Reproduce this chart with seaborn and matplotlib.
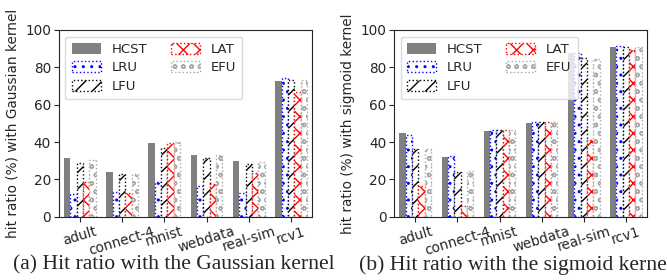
import pandas as pd
import numpy as np
import matplotlib.pyplot as plt
import seaborn as sns

# hit ratio data
datasets = ['adult', 'connect-4', 'mnist', 'webdata', 'real-sim', 'rcv1']
methods = ['HCST', 'LRU', 'LFU', 'LAT', 'EFU']

gauss_hcst = [31.4, 24.0, 39.3, 33.0, 29.8, 72.7]
gauss_lru = [12.0, 13.0, 18.4, 16.6, 12.9, 74.1]
gauss_lfu = [28.6, 22.7, 36.6, 31.3, 28.2, 73.2]
gauss_lat = [18.8, 12.5, 39.3, 17.5, 23.6, 67.0]
gauss_efu = [30.4, 22.7, 39.8, 33.0, 29.1, 73.2]

sig_hcst = [44.8, 32.0, 45.9, 50.0, 87.5, 90.7]
sig_lru = [43.8, 32.5, 46.4, 50.5, 87.5, 91.6]
sig_lfu = [36.0, 24.1, 46.4, 50.5, 84.8, 91.0]
sig_lat = [16.4, 5.7, 46.4, 50.5, 41.0, 89.3]
sig_efu = [36.0, 24.5, 46.4, 50.5, 84.6, 90.7]

ylabels = ['hit ratio (%) with Gaussian kernel', 'hit ratio (%) with sigmoid kernel']
captions = ['(a) Hit ratio with the Gaussian kernel', '(b) Hit ratio with the sigmoid kernel']

# style for each method: (fill, edge colour, hatch)
styles = {
    'HCST': ('gray', 'gray', ''),
    'LRU': ('white', 'blue', '..'),
    'LFU': ('white', 'black', '//'),
    'LAT': ('white', 'red', 'xx'),
    'EFU': ('white', 'darkgray', 'oo'),
}


def make_df(cols):
    rows = []
    for m, vals in zip(methods, cols):
        for d, v in zip(datasets, vals):
            rows.append({'dataset': d, 'method': m, 'ratio': v})
    return pd.DataFrame(rows)


df_gauss = make_df([gauss_hcst, gauss_lru, gauss_lfu, gauss_lat, gauss_efu])
df_sig = make_df([sig_hcst, sig_lru, sig_lfu, sig_lat, sig_efu])

sns.set_theme(style='ticks')
plt.rcParams['font.family'] = ['DejaVu Sans']
plt.rcParams['hatch.linewidth'] = 1.0

fig = plt.figure(figsize=(6.67, 2.8), dpi=100)
ax1 = fig.add_axes([0.088, 0.226, 0.380, 0.667])
ax2 = fig.add_axes([0.591, 0.226, 0.379, 0.667])

for ax, df, ylab in zip([ax1, ax2], [df_gauss, df_sig], ylabels):
    sns.barplot(data=df, x='dataset', y='ratio', hue='method', width=0.75,
                ax=ax, legend=False, saturation=1)
    for cont, m in zip(ax.containers, methods):
        fc, ec, hatch = styles[m]
        for p in cont.patches:
            p.set_facecolor(fc)
            p.set_edgecolor(ec)
            p.set_hatch(hatch)
            if m == 'HCST':
                p.set_linewidth(0)
            else:
                p.set_linestyle(':')
                p.set_linewidth(1.0)
    ax.set_ylim(0, 100)
    ax.set_yticks([0, 20, 40, 60, 80, 100])
    ax.set_xlabel('')
    ax.set_ylabel(ylab, fontsize=9.8)
    ax.tick_params(axis='both', labelsize=9.8, length=3.5, width=0.8, pad=2)
    ax.set_xticks(range(len(datasets)))
    ax.set_xticklabels(datasets, rotation=17, ha='center')
    for s in ax.spines.values():
        s.set_linewidth(0.8)
        s.set_visible(True)
    ax.legend(ax.containers, methods, ncol=2, loc='upper left', fontsize=9.5,
              handlelength=2.2, handleheight=0.9, columnspacing=1.8,
              borderpad=0.5, labelspacing=0.4, fancybox=True, framealpha=0.8,
              edgecolor='lightgray')

# captions run past their half, as in the source
fig.text(0.019, 0.036, captions[0], family='Liberation Serif', fontsize=15.6,
         va='baseline')
fig.text(0.538, 0.036, captions[1], family='Liberation Serif', fontsize=15.6,
         va='baseline')

fig.savefig('out.png', dpi=100)
